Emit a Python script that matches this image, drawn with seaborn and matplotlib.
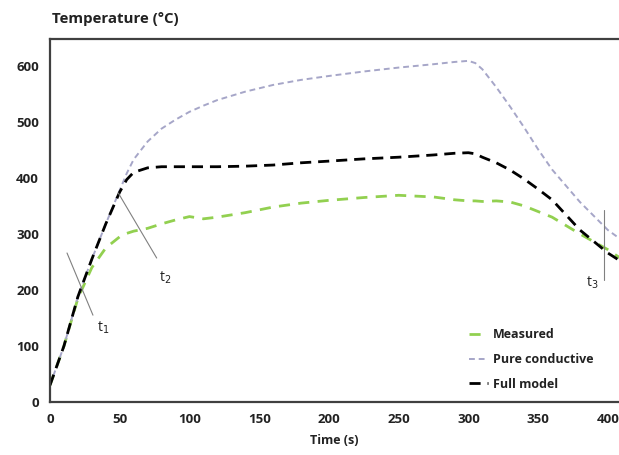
import matplotlib
matplotlib.use("Agg")
import matplotlib.pyplot as plt
import seaborn as sns
import pandas as pd

time = [0, 10, 20, 30, 40, 50, 55, 60, 70, 80, 90, 100, 110, 120, 140, 160, 180, 200, 225, 250,
        275, 290, 300, 305, 310, 320, 330, 340, 350, 360, 380, 400, 410]
measured = [30, 100, 185, 240, 275, 295, 301, 305, 310, 318, 325, 331, 327, 330, 338, 348, 355, 360, 365, 369,
            366, 361, 359, 359, 358, 359, 357, 350, 340, 330, 300, 272, 255]
pure_conductive = [30, 100, 188, 255, 318, 378, 408, 433, 465, 488, 504, 518, 529, 539, 554, 566, 575, 582, 590, 597,
                   603, 607, 609, 605, 594, 562, 527, 490, 451, 415, 357, 307, 289]
full_model = [30, 100, 188, 255, 318, 375, 397, 410, 418, 420, 420, 420, 420, 420, 421, 423, 427, 430, 434, 437,
              441, 444, 445, 443, 437, 427, 414, 398, 380, 361, 307, 266, 250]

series_names = ["Measured", "Pure conductive", "Full model"]
series_colors = ["#92D050", "#A6A6C8", "#000000"]

df = pd.DataFrame({"time": time, "Measured": measured,
                   "Pure conductive": pure_conductive, "Full model": full_model})

sns.set_style("white")
plt.rcParams["font.family"] = ["Open Sans", "DejaVu Sans"]

fig = plt.figure(figsize=(6.19, 4.55), dpi=100)
ax = fig.add_axes([50 / 619, 53 / 455, 569 / 619, 363 / 455])

styles = {
    "Measured": dict(lw=2.0, dashes=(4, 3)),
    "Pure conductive": dict(lw=1.4, dashes=(3, 2)),
    "Full model": dict(lw=2.0, dashes=(4, 2.5)),
}
for name, col in zip(series_names, series_colors):
    sns.lineplot(data=df, x="time", y=name, ax=ax, color=col, label=name,
                 linewidth=styles[name]["lw"], dashes=False)
    ax.lines[-1].set_dashes(styles[name]["dashes"])

# annotation marks t1, t2, t3
ax.plot([12.2, 30.8], [266, 155], color="#808080", lw=0.8)
ax.text(34, 132, "t$_1$", fontsize=10, color="#222222", ha="left", va="center")
ax.plot([49, 76.5], [373, 257], color="#808080", lw=0.8)
ax.text(78, 222, "t$_2$", fontsize=10, color="#222222", ha="left", va="center")
ax.plot([397, 397], [342, 217], color="#808080", lw=0.8)
ax.text(393, 213, "t$_3$", fontsize=10, color="#222222", ha="right", va="center")

ax.set_xlim(0, 408)
ax.set_ylim(0, 648)
ax.set_xticks([0, 50, 100, 150, 200, 250, 300, 350, 400])
ax.set_yticks([0, 100, 200, 300, 400, 500, 600])
for lab in ax.get_xticklabels() + ax.get_yticklabels():
    lab.set_fontweight("bold")
    lab.set_fontsize(9.5)
    lab.set_color("#222222")
ax.tick_params(axis="x", direction="in", length=3, color="#bbbbbb", pad=8)
ax.tick_params(axis="y", length=0, pad=8)

for side in ["left", "bottom", "top"]:
    ax.spines[side].set_visible(True)
    ax.spines[side].set_color("#404040")
    ax.spines[side].set_linewidth(1.6)
ax.spines["right"].set_visible(False)

ax.set_xlabel("Time (s)", fontsize=9, fontweight="bold", color="#222222", labelpad=6)
ax.set_ylabel("")
fig.text(52 / 619, 1 - 19 / 455, "Temperature (°C)", fontsize=10.8, fontweight="bold",
         color="#222222", ha="left", va="center")

leg = ax.legend(loc="lower right", bbox_to_anchor=(0.975, 0.0), frameon=False,
                handlelength=1.5, handletextpad=0.4, labelspacing=0.95,
                prop={"weight": "bold", "size": 9})
for t in leg.get_texts():
    t.set_color("#222222")

fig.savefig("out.png", dpi=100)
